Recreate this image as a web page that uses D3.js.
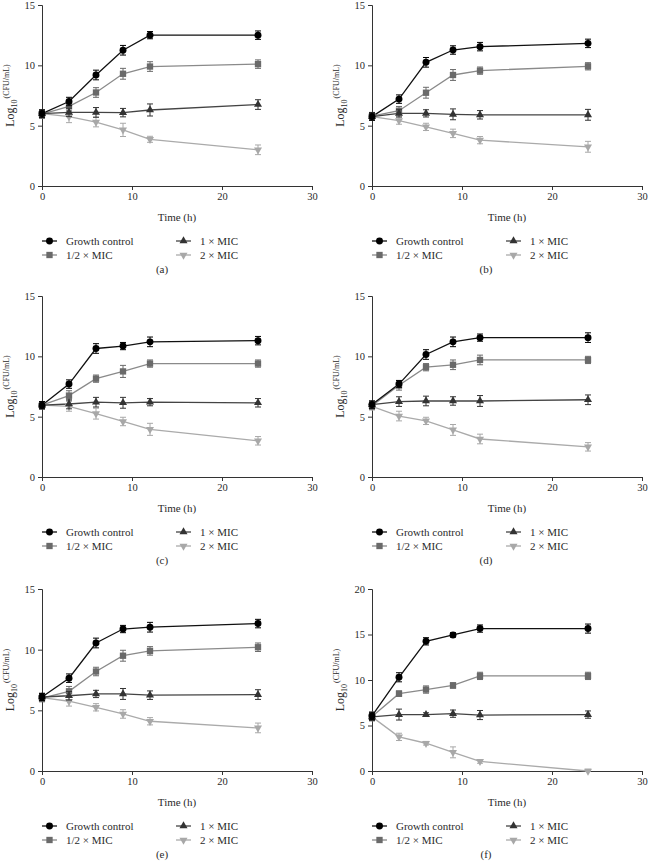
<!DOCTYPE html>
<html>
<head>
<meta charset="utf-8">
<script src="https://cdn.jsdelivr.net/npm/d3@7"></script>
<style>
  html, body { margin: 0; padding: 0; background: #fff; }
  svg { display: block; }
  text { font-family: "Liberation Serif", "Times New Roman", serif; fill: #2a2a2a; }
</style>
</head>
<body>
<svg id="chart" width="648" height="866"></svg>
<script>
// ---- data ----
const times = [0, 3, 6, 9, 12, 24];
const seriesNames = ["Growth control", "1/2 × MIC", "1 × MIC", "2 × MIC"];
const panelLabels = ["(a)", "(b)", "(c)", "(d)", "(e)", "(f)"];
const yMaxes = [15, 15, 15, 15, 15, 20];
const xTicks = [0, 10, 20, 30];

// values per panel: [growth, half, one, two]
const panelA_growth = [6.0, 7.0, 9.2, 11.25, 12.5, 12.5];
const panelA_half   = [5.95, 6.6, 7.75, 9.3, 9.9, 10.1];
const panelA_one    = [6.0, 6.1, 6.1, 6.08, 6.3, 6.75];
const panelA_two    = [6.0, 5.75, 5.3, 4.65, 3.87, 3.0];
const panelA_err = [[0.3,0.35,0.4,0.4,0.3,0.35],[0.35,0.4,0.4,0.45,0.4,0.35],[0.3,0.35,0.4,0.35,0.5,0.4],[0.3,0.5,0.4,0.55,0.25,0.4]];

const panelB_growth = [5.75, 7.2, 10.25, 11.27, 11.55, 11.82];
const panelB_half   = [5.8, 6.24, 7.73, 9.2, 9.56, 9.92];
const panelB_one    = [5.75, 6.02, 6.02, 5.94, 5.9, 5.9];
const panelB_two    = [5.75, 5.42, 4.9, 4.36, 3.8, 3.25];
const panelB_err = [[0.3,0.35,0.4,0.35,0.35,0.35],[0.3,0.35,0.45,0.45,0.3,0.3],[0.3,0.3,0.3,0.45,0.35,0.45],[0.3,0.3,0.3,0.35,0.3,0.45]];

const panelC_growth = [5.95, 7.7, 10.65, 10.85, 11.2, 11.3];
const panelC_half   = [5.95, 6.75, 8.15, 8.75, 9.4, 9.4];
const panelC_one    = [5.95, 6.05, 6.2, 6.15, 6.2, 6.15];
const panelC_two    = [5.95, 5.85, 5.25, 4.6, 3.95, 3.0];
const panelC_err = [[0.3,0.35,0.4,0.3,0.4,0.35],[0.3,0.4,0.3,0.5,0.3,0.3],[0.3,0.4,0.4,0.45,0.3,0.35],[0.3,0.4,0.45,0.35,0.5,0.35]];

const panelD_growth = [6.0, 7.7, 10.15, 11.2, 11.55, 11.55];
const panelD_half   = [5.9, 7.6, 9.1, 9.3, 9.7, 9.7];
const panelD_one    = [6.0, 6.25, 6.3, 6.3, 6.3, 6.4];
const panelD_two    = [5.85, 5.05, 4.65, 3.9, 3.15, 2.5];
const panelD_err = [[0.3,0.3,0.4,0.4,0.3,0.4],[0.3,0.4,0.3,0.4,0.4,0.3],[0.3,0.4,0.4,0.35,0.45,0.4],[0.3,0.4,0.3,0.45,0.4,0.35]];

const panelE_growth = [6.1, 7.65, 10.55, 11.7, 11.85, 12.15];
const panelE_half   = [6.0, 6.57, 8.2, 9.5, 9.9, 10.2];
const panelE_one    = [6.1, 6.2, 6.35, 6.35, 6.25, 6.3];
const panelE_two    = [6.05, 5.75, 5.25, 4.7, 4.1, 3.55];
const panelE_err = [[0.3,0.35,0.4,0.3,0.4,0.35],[0.3,0.4,0.35,0.45,0.35,0.35],[0.3,0.35,0.3,0.45,0.35,0.4],[0.3,0.4,0.3,0.35,0.3,0.4]];

const panelF_growth = [6.05, 10.3, 14.25, 14.95, 15.65, 15.65];
const panelF_half   = [6.0, 8.5, 8.95, 9.4, 10.45, 10.45];
const panelF_one    = [5.95, 6.2, 6.2, 6.3, 6.15, 6.2];
const panelF_two    = [5.95, 3.75, 3.05, 2.05, 1.05, 0.0];
const panelF_err = [[0.4,0.5,0.4,0.25,0.4,0.5],[0.5,0.3,0.4,0.3,0.4,0.4],[0.4,0.6,0.2,0.4,0.5,0.4],[0.3,0.4,0.2,0.6,0.2,0.2]];

const panelValues = [
  [panelA_growth, panelA_half, panelA_one, panelA_two],
  [panelB_growth, panelB_half, panelB_one, panelB_two],
  [panelC_growth, panelC_half, panelC_one, panelC_two],
  [panelD_growth, panelD_half, panelD_one, panelD_two],
  [panelE_growth, panelE_half, panelE_one, panelE_two],
  [panelF_growth, panelF_half, panelF_one, panelF_two]
];
const panelErrors = [panelA_err, panelB_err, panelC_err, panelD_err, panelE_err, panelF_err];

// ---- styles ----
const markerColors = ["#000000", "#6a6a6a", "#333333", "#a8a8a8"];
const lineColors   = ["#111111", "#8a8a8a", "#444444", "#aaaaaa"];
const symbols = [d3.symbolCircle, d3.symbolSquare, d3.symbolTriangle, "down"];
const symbolSizes = [38, 40, 28, 28];

const svg = d3.select("#chart");

const colX = [42, 372];
const rowTop = [5, 296, 589];
const rowBottom = [186, 477, 771];
const plotW = 270;

function drawMarker(g, i, cx, cy) {
  if (symbols[i] === "down") {
    g.append("path")
      .attr("d", d3.symbol().type(d3.symbolTriangle).size(symbolSizes[i])())
      .attr("transform", `translate(${cx},${cy}) rotate(180)`)
      .attr("fill", markerColors[i]);
  } else {
    g.append("path")
      .attr("d", d3.symbol().type(symbols[i]).size(symbolSizes[i])())
      .attr("transform", `translate(${cx},${cy})`)
      .attr("fill", markerColors[i]);
  }
}

panelValues.forEach((vals, p) => {
  const col = p % 2, row = Math.floor(p / 2);
  const left = colX[col], top = rowTop[row], bottom = rowBottom[row];
  const x = d3.scaleLinear().domain([0, 30]).range([left, left + plotW]);
  const y = d3.scaleLinear().domain([0, yMaxes[p]]).range([bottom, top]);
  const g = svg.append("g");

  // axes
  const xAxis = d3.axisBottom(x).tickValues(xTicks).tickSize(4).tickPadding(3).tickFormat(d3.format("d"));
  const yAxis = d3.axisLeft(y).tickValues(d3.range(0, yMaxes[p] + 1, 5)).tickSize(4).tickPadding(3);
  const gx = g.append("g").attr("transform", `translate(0,${bottom})`).call(xAxis);
  const gy = g.append("g").attr("transform", `translate(${left},0)`).call(yAxis);
  [gx, gy].forEach(a => {
    a.select(".domain").attr("stroke", "#333").attr("stroke-width", 1);
    a.selectAll(".tick line").attr("stroke", "#333");
    a.selectAll(".tick text").attr("font-size", 10.5).attr("font-family", "Liberation Serif, serif").attr("fill", "#2a2a2a");
  });

  // axis titles
  g.append("text").attr("x", left + plotW / 2).attr("y", bottom + 35)
    .attr("text-anchor", "middle").attr("font-size", 11).text("Time (h)");
  const ylab = g.append("text")
    .attr("transform", `translate(${left - 28},${(top + bottom) / 2}) rotate(-90)`)
    .attr("text-anchor", "middle").attr("font-size", 12);
  ylab.append("tspan").text("Log");
  ylab.append("tspan").attr("font-size", 8).attr("dy", 3).text("10");
  ylab.append("tspan").attr("font-size", 8).attr("dy", -8).attr("dx", 1).text("(CFU/mL)");

  // series
  const line = d3.line().x((d, j) => x(times[j])).y(d => y(d)).curve(d3.curveLinear);
  const order = [3, 1, 2, 0];
  order.forEach(i => {
    g.append("path").datum(vals[i]).attr("d", line)
      .attr("fill", "none").attr("stroke", lineColors[i]).attr("stroke-width", 1.3);
  });
  order.forEach(i => {
    const s = vals[i];
    const errs = panelErrors[p][i];
    s.forEach((v, j) => {
      const cx = x(times[j]);
      const e = errs[j];
      const y1 = y(v + e), y2 = y(Math.max(0, v - e));
      g.append("line").attr("x1", cx).attr("x2", cx).attr("y1", y1).attr("y2", y2)
        .attr("stroke", markerColors[i]).attr("stroke-width", 1);
      [y1, y2].forEach(yy => g.append("line").attr("x1", cx - 3).attr("x2", cx + 3)
        .attr("y1", yy).attr("y2", yy).attr("stroke", markerColors[i]).attr("stroke-width", 1));
      drawMarker(g, i, cx, y(v));
    });
  });

  // legend
  const legPos = [[0, 0], [0, 1], [1, 0], [1, 1]];
  seriesNames.forEach((name, i) => {
    const lx = left + (legPos[i][0] === 0 ? 0 : 134);
    const ly = bottom + 55 + legPos[i][1] * 14;
    g.append("line").attr("x1", lx).attr("x2", lx + 15).attr("y1", ly).attr("y2", ly)
      .attr("stroke", lineColors[i]).attr("stroke-width", 1.3);
    drawMarker(g, i, lx + 7.5, ly);
    g.append("text").attr("x", lx + 24).attr("y", ly + 4).attr("font-size", 11).text(name);
  });

  // panel caption
  g.append("text").attr("x", col * 324 + 162).attr("y", bottom + 87)
    .attr("text-anchor", "middle").attr("font-size", 11).text(panelLabels[p]);
});
</script>
</body>
</html>
